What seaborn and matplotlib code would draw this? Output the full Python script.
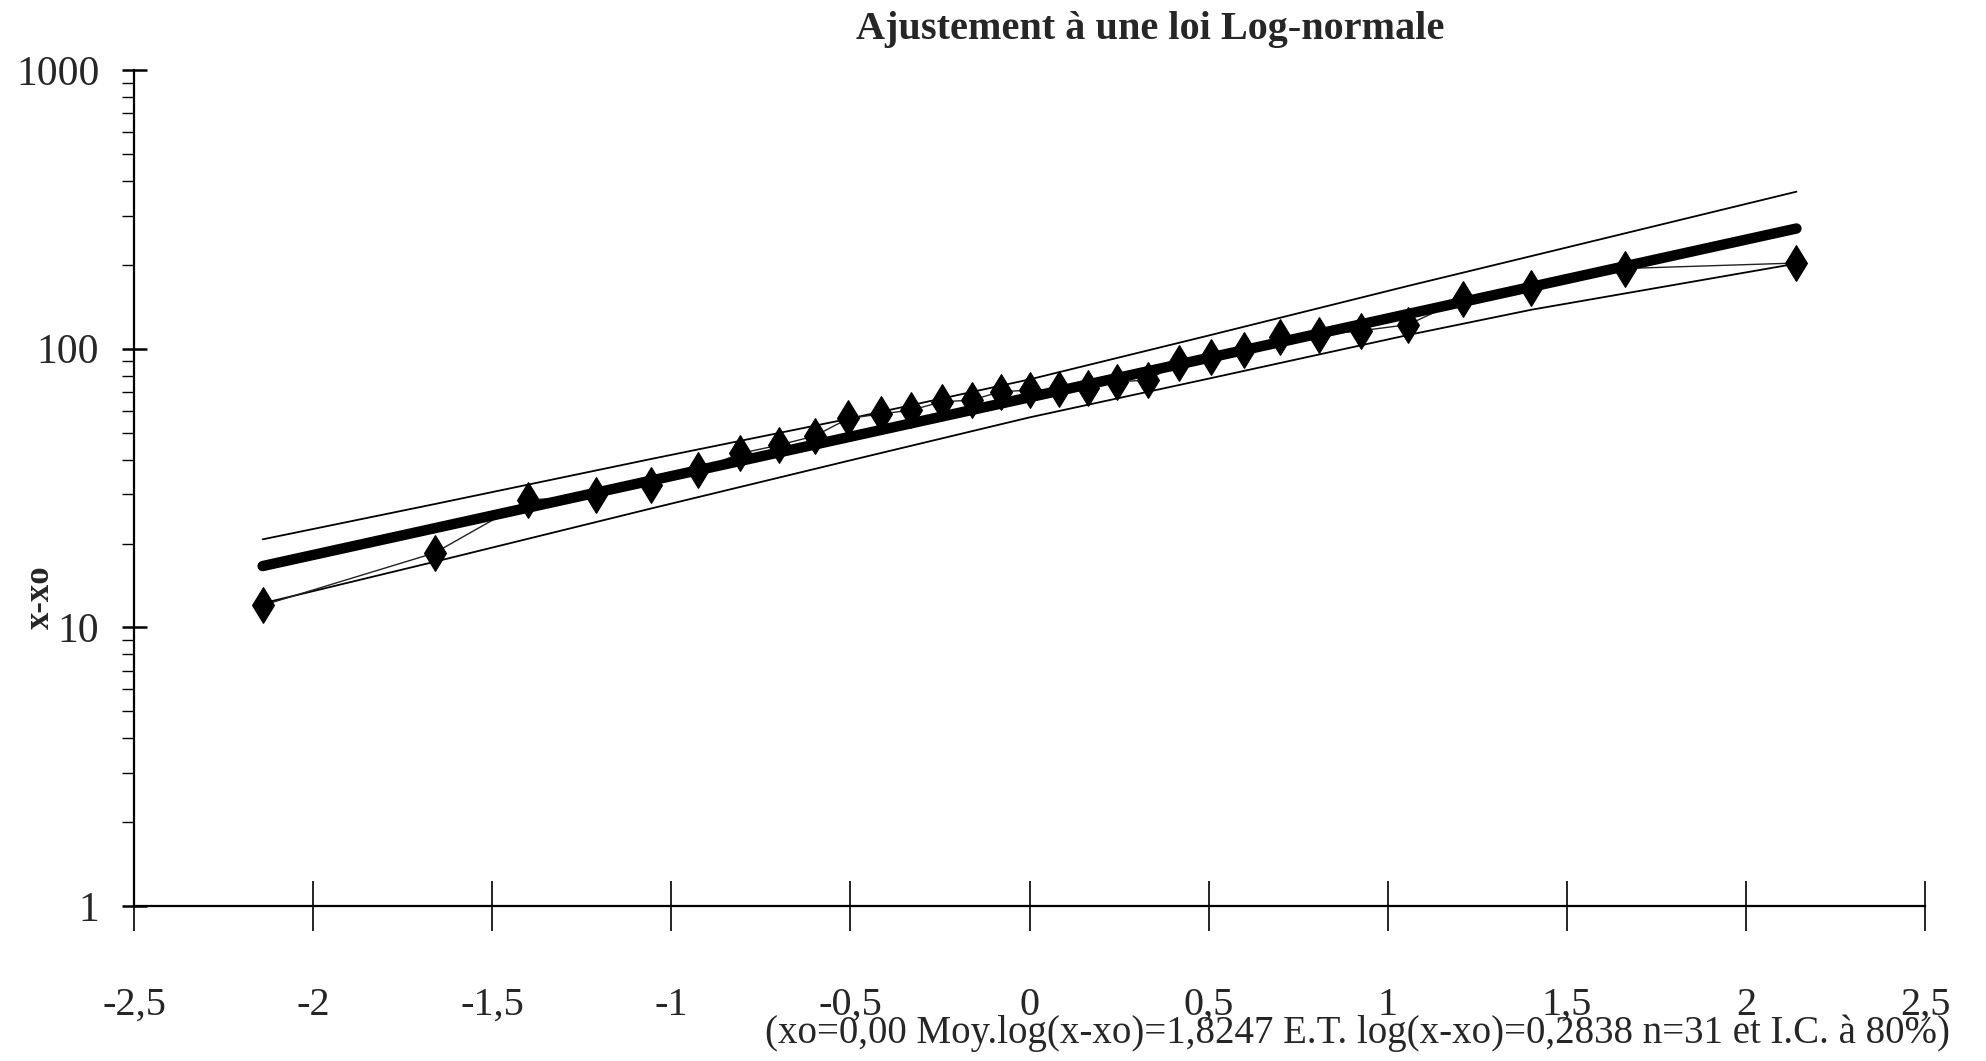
import matplotlib
matplotlib.use("Agg")
import matplotlib.pyplot as plt
import seaborn as sns
import pandas as pd
from matplotlib.ticker import FixedLocator, NullFormatter

# ---- data ----
z_pos = [-2.141, -1.661, -1.401, -1.211, -1.057, -0.925, -0.807, -0.700, -0.600, -0.506,
         -0.416, -0.330, -0.245, -0.162, -0.081, 0.0, 0.081, 0.162, 0.245, 0.330,
         0.416, 0.506, 0.600, 0.700, 0.807, 0.925, 1.057, 1.211, 1.401, 1.661, 2.141]
x_values = [12.0, 18.5, 28.6, 29.8, 32.4, 36.7, 42.1, 45.1, 48.6, 56.2,
            58.3, 60.2, 64.5, 65.4, 70.1, 71.0, 71.5, 72.0, 76.1, 77.2,
            89.0, 93.0, 98.9, 110.0, 112.0, 116.0, 122.0, 151.0, 165.0, 194.0, 203.0]

fit_z = [-2.141, 2.141]
fit_y = [16.6, 270.0]

ci_z = [-2.141, -1.661, -1.057, -0.506, 0.0, 0.506, 1.057, 1.401, 2.141]
ci_upper = [20.7, 27.7, 40.2, 56.0, 77.6, 112.0, 168.0, 215.0, 366.0]
ci_lower = [12.2, 17.2, 26.7, 39.6, 56.7, 78.4, 112.0, 138.0, 202.0]

x_ticks = [-2.5, -2.0, -1.5, -1.0, -0.5, 0.0, 0.5, 1.0, 1.5, 2.0, 2.5]
x_tick_labels = ["-2,5", "-2", "-1,5", "-1", "-0,5", "0", "0,5", "1", "1,5", "2", "2,5"]
y_ticks = [1, 10, 100, 1000]
y_tick_labels = ["1", "10", "100", "1000"]

title = "Ajustement à une loi Log-normale"
y_label = "x-xo"
note = "(xo=0,00 Moy.log(x-xo)=1,8247 E.T. log(x-xo)=0,2838 n=31 et I.C. à 80%)"

# ---- drawing ----
sns.set_style("white")
plt.rcParams["font.family"] = ["Liberation Serif", "DejaVu Serif"]

fig = plt.figure(figsize=(19.86, 10.61), dpi=100)
ax = fig.add_axes([0.0675, 0.146, 0.9018, 0.788])

df_pts = pd.DataFrame({"z": z_pos, "v": x_values})
df_fit = pd.DataFrame({"z": fit_z, "v": fit_y})
df_up = pd.DataFrame({"z": ci_z, "v": ci_upper})
df_lo = pd.DataFrame({"z": ci_z, "v": ci_lower})

sns.lineplot(data=df_up, x="z", y="v", ax=ax, color="black", linewidth=1.3, estimator=None)
sns.lineplot(data=df_lo, x="z", y="v", ax=ax, color="black", linewidth=1.3, estimator=None)
sns.lineplot(data=df_pts, x="z", y="v", ax=ax, color="#222222", linewidth=1.0, estimator=None,
             marker="d", markersize=18, markeredgecolor="black", markerfacecolor="black")
sns.lineplot(data=df_fit, x="z", y="v", ax=ax, color="black", linewidth=7.5, estimator=None,
             solid_capstyle="round")

ax.set_yscale("log")
ax.set_ylim(1, 1000)
ax.set_xlim(-2.5, 2.5)

ax.set_xticks(x_ticks)
ax.set_xticklabels(x_tick_labels, fontsize=29)
ax.set_yticks(y_ticks)
ax.set_yticklabels(y_tick_labels, fontsize=30)
ax.yaxis.set_minor_locator(FixedLocator([m * d for d in (1, 10, 100) for m in range(2, 10)]))
ax.yaxis.set_minor_formatter(NullFormatter())

ax.tick_params(axis="x", which="major", direction="inout", length=36, width=1.2,
               color="black", pad=40, bottom=True)
ax.tick_params(axis="y", which="major", direction="inout", length=18, width=1.8,
               color="black", pad=16, left=True)
ax.tick_params(axis="y", which="minor", direction="out", length=9, width=1.0,
               color="black", left=True)

for s in ("top", "right"):
    ax.spines[s].set_visible(False)
for s in ("left", "bottom"):
    ax.spines[s].set_color("black")
    ax.spines[s].set_linewidth(1.6)

ax.set_xlabel("")
ax.set_ylabel(y_label, fontsize=25, fontweight="bold", labelpad=8)
ax.yaxis.set_label_coords(-0.043, 0.37)

fig.text(0.579, 0.99, title, ha="center", va="top", fontsize=29, fontweight="bold")
fig.text(0.982, 0.026, note, ha="right", va="center", fontsize=28)

fig.savefig("out.png", dpi=100, facecolor="white")
